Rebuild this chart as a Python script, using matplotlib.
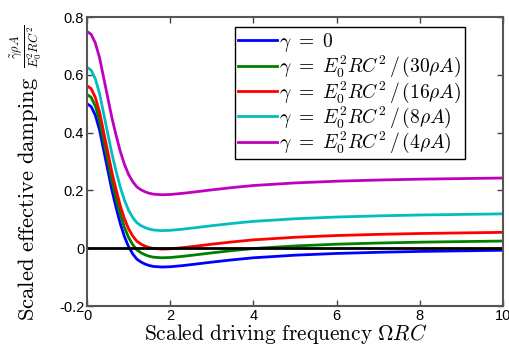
import numpy as np
import matplotlib
matplotlib.use("Agg")
import matplotlib.pyplot as plt

plt.rcParams['mathtext.fontset'] = 'cm'
plt.rcParams['font.family'] = ['Liberation Sans', 'DejaVu Sans']

# scaled driving frequency
w = [0, 0.1, 0.2, 0.3, 0.4, 0.5, 0.6, 0.7, 0.8, 0.9, 1.0, 1.1, 1.2, 1.3, 1.4,
     1.5, 1.6, 1.8, 2.0, 2.3, 2.6, 3.0, 3.5, 4.0, 5.0, 6.0, 7.0, 8.0, 9.0, 10.0]

d_0 = [0.500, 0.490, 0.460, 0.410, 0.340, 0.270, 0.200, 0.140, 0.085, 0.040,
       0.005, -0.020, -0.038, -0.048, -0.055, -0.060, -0.063, -0.065, -0.064,
       -0.060, -0.055, -0.048, -0.040, -0.033, -0.024, -0.018, -0.014, -0.011,
       -0.009, -0.007]
d_30 = [0.532, 0.522, 0.492, 0.442, 0.372, 0.302, 0.232, 0.172, 0.117, 0.072,
        0.037, 0.012, -0.006, -0.016, -0.023, -0.028, -0.031, -0.033, -0.032,
        -0.028, -0.023, -0.016, -0.008, -0.001, 0.008, 0.014, 0.018, 0.021,
        0.023, 0.025]
d_16 = [0.562, 0.552, 0.522, 0.472, 0.402, 0.332, 0.262, 0.202, 0.147, 0.102,
        0.067, 0.042, 0.024, 0.014, 0.007, 0.002, -0.001, -0.003, -0.002,
        0.002, 0.007, 0.014, 0.022, 0.029, 0.038, 0.044, 0.048, 0.051,
        0.053, 0.055]
d_8 = [0.626, 0.616, 0.586, 0.536, 0.466, 0.396, 0.326, 0.266, 0.211, 0.166,
       0.131, 0.106, 0.088, 0.078, 0.071, 0.066, 0.063, 0.061, 0.062,
       0.066, 0.071, 0.078, 0.086, 0.093, 0.102, 0.108, 0.112, 0.115,
       0.117, 0.119]
d_4 = [0.750, 0.740, 0.710, 0.660, 0.590, 0.520, 0.450, 0.390, 0.335, 0.290,
       0.255, 0.230, 0.212, 0.202, 0.195, 0.190, 0.187, 0.185, 0.186,
       0.190, 0.195, 0.202, 0.210, 0.217, 0.226, 0.232, 0.236, 0.239,
       0.241, 0.243]

series = [d_0, d_30, d_16, d_8, d_4]
labels = [r'$\gamma\ =\ 0$',
          r'$\gamma\ =\ E_0^2RC^2\,/\,(30\rho A)$',
          r'$\gamma\ =\ E_0^2RC^2\,/\,(16\rho A)$',
          r'$\gamma\ =\ E_0^2RC^2\,/\,(8\rho A)$',
          r'$\gamma\ =\ E_0^2RC^2\,/\,(4\rho A)$']
colors = [(0, 0, 1), (0, 0.5, 0), (1, 0, 0), (0, 0.75, 0.75), (0.75, 0, 0.75)]

fig = plt.figure(figsize=(5.1, 3.47), dpi=100)
ax = fig.add_axes([0.1706, 0.118, 0.816, 0.833])

for d, lab, c in zip(series, labels, colors):
    ax.plot(w, d, color=c, lw=2, label=lab)
ax.axhline(0, color='k', lw=2)

ax.set_xlim(0, 10)
ax.set_ylim(-0.2, 0.8)
ax.set_xticks([0, 2, 4, 6, 8, 10])
ax.set_yticks([-0.2, 0, 0.2, 0.4, 0.6, 0.8])
ax.set_yticklabels(['-0.2', '0', '0.2', '0.4', '0.6', '0.8'])
ax.tick_params(direction='in', top=True, right=True, length=4, width=1,
               labelsize=10.5, color='#444444', pad=2)
for s in ax.spines.values():
    s.set_color('#555555')
    s.set_linewidth(1.5)

# axis labels (LaTeX look)
fig.text(0.561, 0.02, r'$\mathrm{Scaled\ driving\ frequency}\ \Omega RC$',
         fontsize=15.4, ha='center', va='baseline')
fig.text(0.055, 0.428, r'$\mathrm{Scaled\ effective\ damping}$',
         fontsize=16.3, ha='center', va='center', rotation=90)
fig.text(0.053, 0.866, r'$\frac{\tilde{\gamma}\rho A}{E_0^2RC^2}$',
         fontsize=13, ha='center', va='center', rotation=90)

leg = ax.legend(loc='upper right', bbox_to_anchor=(0.909, 0.965), fontsize=14,
                fancybox=False, framealpha=1, edgecolor='k', handlelength=2.0,
                handletextpad=0.1, borderpad=0.2, labelspacing=0.0,
                borderaxespad=0)
leg.get_frame().set_linewidth(1)

fig.savefig('out.png', dpi=100)
